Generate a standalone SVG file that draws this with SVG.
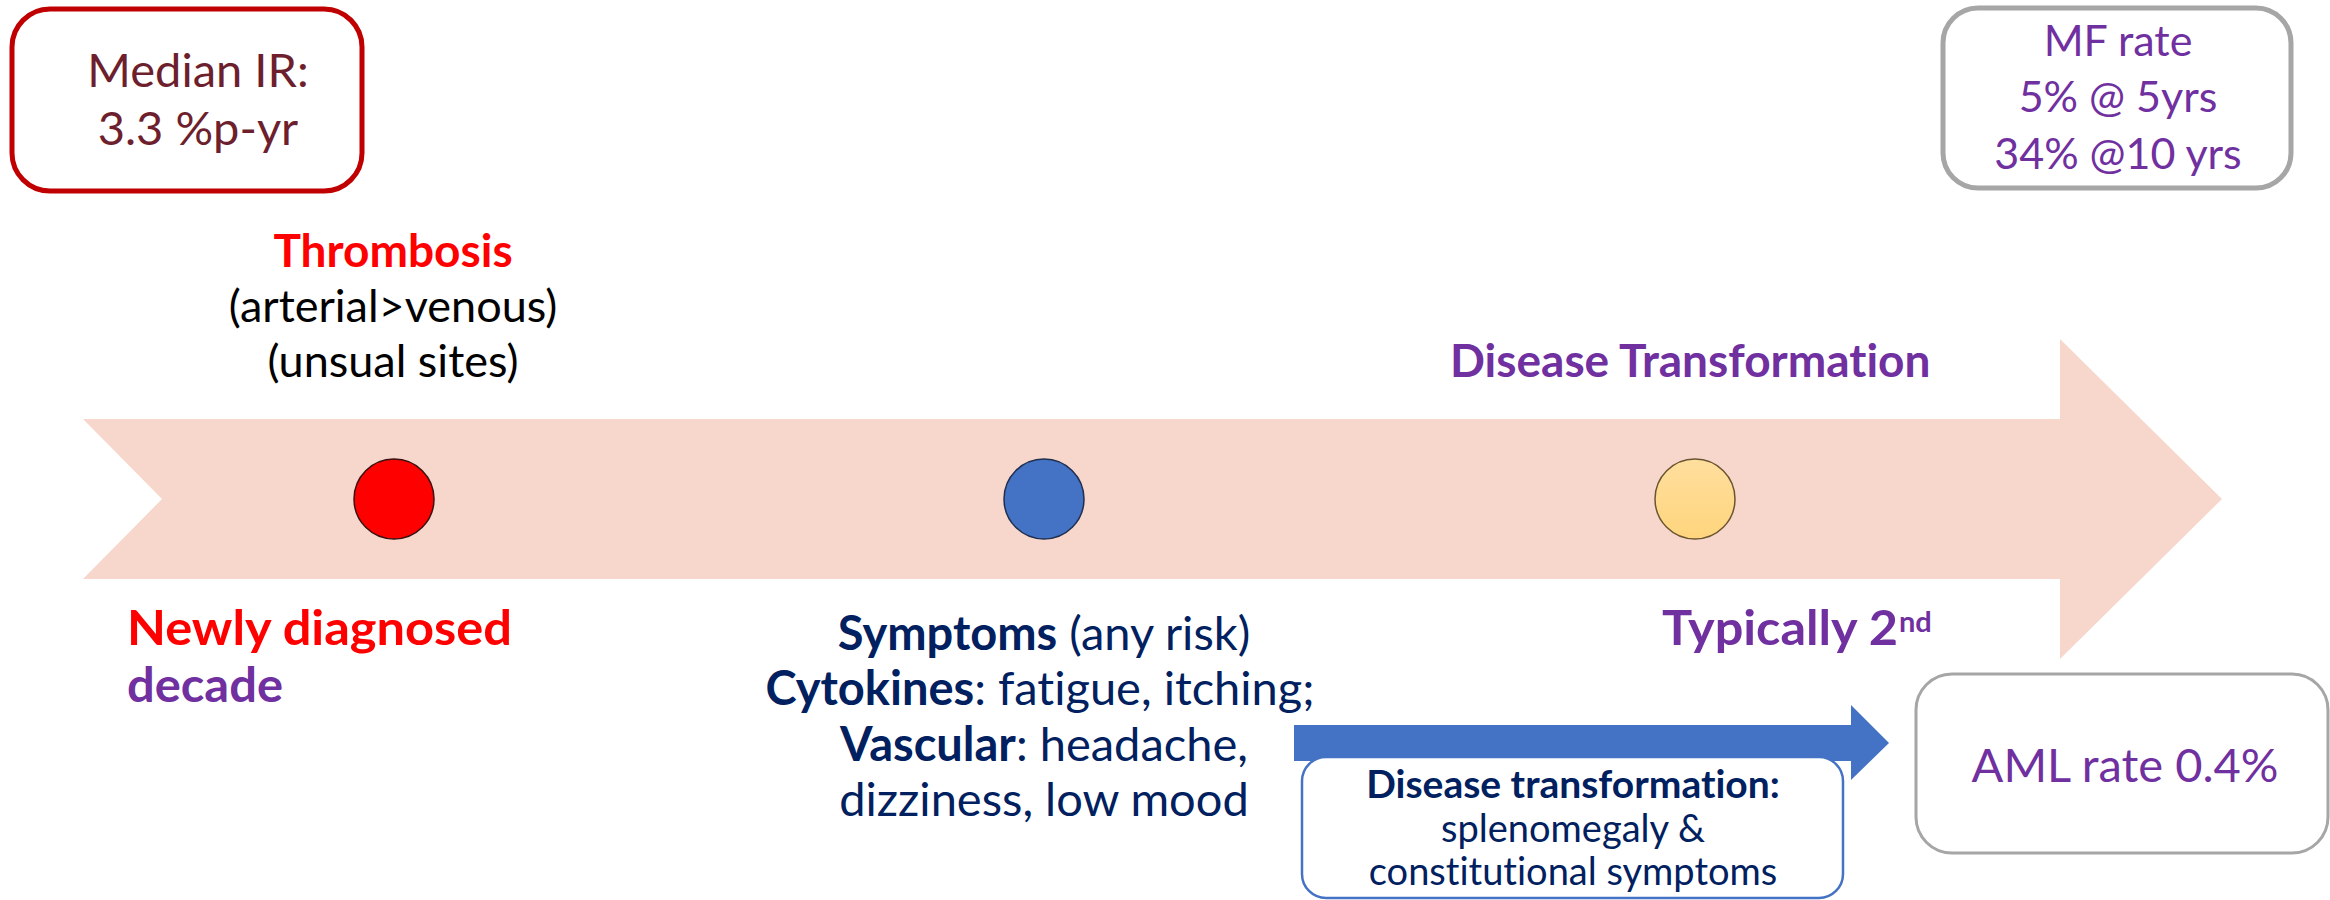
<svg xmlns="http://www.w3.org/2000/svg" width="2330" height="900" viewBox="0 0 2330 900">
<defs>
<style>
text{font-family:Lato,"Liberation Sans",sans-serif;font-variant-ligatures:none}
.b{font-weight:bold}
.purple{fill:#7030a0}
.navy{fill:#002060}
.red{fill:#ff0000}
</style>
<linearGradient id="yel" x1="0" y1="0" x2="0" y2="1">
<stop offset="0" stop-color="#ffdf9e"/>
<stop offset="1" stop-color="#ffd57d"/>
</linearGradient>
</defs>
<rect width="2330" height="900" fill="#ffffff"/>
<g id="connectors">
<polygon id="timeline" points="83,419 2060,419 2060,339 2222,499 2060,659 2060,579 83,579 162,499" fill="#f7d7cc"/>
<polygon id="blue-arrow" points="1294,725 1851,725 1851,705 1889,743 1851,780 1851,761 1294,761" fill="#4472c4"/>
</g>
<g id="median-ir">
<rect x="12" y="9" width="350" height="182" rx="38" fill="#ffffff" stroke="#c00000" stroke-width="5"/>
<text x="198" y="87" font-size="47" text-anchor="middle" fill="#6e1f2e">Median IR:</text>
<text x="198" y="145" font-size="47" text-anchor="middle" fill="#6e1f2e">3.3 %p-yr</text>
</g>
<g id="mf-rate">
<rect x="1943" y="8" width="348" height="180" rx="35" fill="#ffffff" stroke="#a6a6a6" stroke-width="5"/>
<text x="2118" y="56" font-size="43" text-anchor="middle" class="purple">MF rate</text>
<text x="2118" y="112" font-size="43" text-anchor="middle" class="purple">5% @ 5yrs</text>
<text x="2118" y="169" font-size="43" text-anchor="middle" class="purple">34% @10 yrs</text>
</g>
<g id="thrombosis">
<text x="393" y="267" font-size="46" text-anchor="middle" class="b red">Thrombosis</text>
<text x="393" y="322" font-size="45" text-anchor="middle" fill="#000000">(arterial&gt;venous)</text>
<text x="393" y="377" font-size="45" text-anchor="middle" fill="#000000">(unsual sites)</text>
</g>
<g id="disease-transformation-label">
<text x="1450" y="377" font-size="46" class="b purple">Disease Transformation</text>
</g>
<g id="dot-red">
<circle cx="394" cy="499" r="40" fill="#ff0000" stroke="#3a1010" stroke-width="1.5"/>
</g>
<g id="dot-blue">
<circle cx="1044" cy="499" r="40" fill="#4472c4" stroke="#1f2f4f" stroke-width="1.5"/>
</g>
<g id="dot-yellow">
<circle cx="1695" cy="499" r="40" fill="url(#yel)" stroke="#6b5530" stroke-width="1.5"/>
</g>
<g id="newly-diagnosed">
<text x="127" y="645" font-size="47" textLength="385" lengthAdjust="spacingAndGlyphs" class="b red">Newly diagnosed</text>
<text x="127" y="702" font-size="47" textLength="156" lengthAdjust="spacingAndGlyphs" class="b purple">decade</text>
</g>
<g id="symptoms">
<text x="1044" y="650" font-size="47" text-anchor="middle" class="navy"><tspan class="b">Symptoms</tspan> (any risk)</text>
<text x="1040" y="705" font-size="47" text-anchor="middle" class="navy"><tspan class="b">Cytokines</tspan>: fatigue, itching;</text>
<text x="1044" y="761" font-size="47" text-anchor="middle" class="navy"><tspan class="b">Vascular</tspan>: headache,</text>
<text x="1044" y="816" font-size="47" text-anchor="middle" class="navy">dizziness, low mood</text>
</g>
<g id="typically">
<text x="1662" y="645" font-size="47" textLength="236" lengthAdjust="spacingAndGlyphs" class="b purple">Typically 2</text>
<text x="1899" y="632" font-size="29" class="b purple">nd</text>
</g>
<g id="transformation-box">
<rect x="1302" y="757" width="541" height="141" rx="24" fill="#ffffff" stroke="#4472c4" stroke-width="2.5"/>
<text x="1573" y="798" font-size="39" text-anchor="middle" class="b navy">Disease transformation:</text>
<text x="1573" y="842" font-size="38" text-anchor="middle" class="navy">splenomegaly &amp;</text>
<text x="1573" y="885" font-size="38" text-anchor="middle" class="navy">constitutional symptoms</text>
</g>
<g id="aml">
<rect x="1916" y="674" width="412" height="179" rx="36" fill="#ffffff" stroke="#a6a6a6" stroke-width="3"/>
<text x="2125" y="782" font-size="47" text-anchor="middle" class="purple">AML rate 0.4%</text>
</g>
</svg>
